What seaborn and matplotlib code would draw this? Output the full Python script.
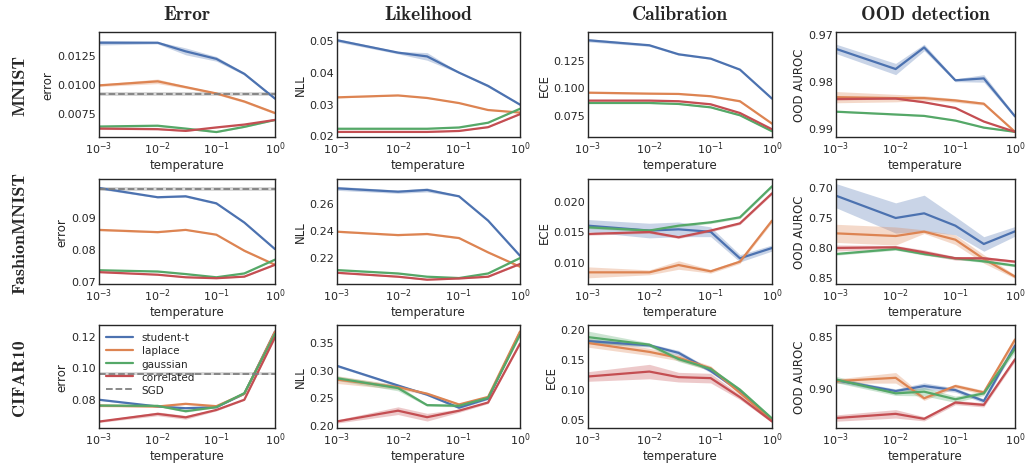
import pandas as pd
import matplotlib
matplotlib.use('Agg')
import matplotlib.pyplot as plt
from matplotlib.lines import Line2D
import seaborn as sns

temperature = [1e-3, 1e-2, 3e-2, 1e-1, 3e-1, 1.0]
methods = ['student-t', 'laplace', 'gaussian', 'correlated']
datasets = ['MNIST', 'FashionMNIST', 'CIFAR10']
metrics = ['Error', 'Likelihood', 'Calibration', 'OOD detection']
ylabels = ['error', 'NLL', 'ECE', 'OOD AUROC']

# ---- MNIST ----
mnist_error = {
    'student-t': [0.0136, 0.0136, 0.01285, 0.0122, 0.0109, 0.00875],
    'laplace': [0.0099, 0.01025, 0.00975, 0.0092, 0.0085, 0.0075],
    'gaussian': [0.00633, 0.0064, 0.00615, 0.00585, 0.0063, 0.0069],
    'correlated': [0.00615, 0.0061, 0.00595, 0.00625, 0.0065, 0.0069],
}
mnist_error_sd = {
    'student-t': [0.0002, 0.0001, 0.0003, 0.0002, 0.0001, 0.0001],
    'laplace': [0.0001, 0.0002, 0.0001, 0.0001, 0.0001, 0.0001],
    'gaussian': [0.00008, 0.00008, 0.00005, 0.00005, 0.00005, 0.00005],
    'correlated': [0.00008, 0.00005, 0.00005, 0.00005, 0.00005, 0.00005],
}
mnist_nll = {
    'student-t': [0.0500, 0.0461, 0.0449, 0.0398, 0.0356, 0.0297],
    'laplace': [0.0320, 0.0326, 0.0318, 0.0302, 0.0280, 0.0272],
    'gaussian': [0.0221, 0.0221, 0.0221, 0.0225, 0.0240, 0.0284],
    'correlated': [0.0211, 0.0211, 0.0211, 0.0214, 0.0226, 0.0267],
}
mnist_nll_sd = {
    'student-t': [0.0005, 0.0004, 0.0012, 0.0002, 0.0004, 0.0002],
    'laplace': [0.0002, 0.0001, 0.0001, 0.0001, 0.0001, 0.0001],
    'gaussian': [0.0001, 0.0001, 0.0001, 0.0001, 0.0001, 0.0001],
    'correlated': [0.0001, 0.0001, 0.0001, 0.0001, 0.0001, 0.0001],
}
mnist_ece = {
    'student-t': [0.1434, 0.1388, 0.1305, 0.1265, 0.1164, 0.0897],
    'laplace': [0.0952, 0.0943, 0.0940, 0.0919, 0.0873, 0.0667],
    'gaussian': [0.0857, 0.0857, 0.0848, 0.0817, 0.0744, 0.0597],
    'correlated': [0.0879, 0.0879, 0.0873, 0.0845, 0.0765, 0.0615],
}
mnist_ece_sd = {
    'student-t': [0.0015, 0.001, 0.0008, 0.0005, 0.0008, 0.0005],
    'laplace': [0.0008, 0.0005, 0.0005, 0.0005, 0.0008, 0.0005],
    'gaussian': [0.0005, 0.0005, 0.0005, 0.0005, 0.0005, 0.0005],
    'correlated': [0.0005, 0.0005, 0.0005, 0.0005, 0.0005, 0.0005],
}
mnist_ood = {
    'student-t': [0.9732, 0.9775, 0.9729, 0.9799, 0.9795, 0.9876],
    'laplace': [0.9835, 0.9837, 0.9837, 0.9842, 0.9849, 0.9909],
    'gaussian': [0.9866, 0.9872, 0.9875, 0.9885, 0.9900, 0.9909],
    'correlated': [0.9839, 0.9838, 0.9846, 0.9858, 0.9887, 0.9909],
}
mnist_ood_sd = {
    'student-t': [0.0010, 0.0012, 0.0007, 0.0003, 0.0008, 0.0003],
    'laplace': [0.0012, 0.0008, 0.0005, 0.0004, 0.0003, 0.0001],
    'gaussian': [0.0001, 0.0001, 0.0001, 0.0001, 0.0001, 0.0001],
    'correlated': [0.0002, 0.0001, 0.0001, 0.0001, 0.0001, 0.0001],
}
mnist_sgd = (0.00916, 0.0002)

# ---- FashionMNIST ----
fashion_error = {
    'student-t': [0.0992, 0.0963, 0.0966, 0.0944, 0.0884, 0.0801],
    'laplace': [0.0861, 0.0854, 0.0861, 0.0846, 0.0796, 0.0752],
    'gaussian': [0.0735, 0.0731, 0.0723, 0.0713, 0.0725, 0.0768],
    'correlated': [0.0729, 0.0721, 0.0713, 0.0710, 0.0715, 0.0752],
}
fashion_error_sd = {
    'student-t': [0.0004, 0.0002, 0.0003, 0.0003, 0.0002, 0.0002],
    'laplace': [0.0003, 0.0002, 0.0001, 0.0001, 0.0003, 0.0001],
    'gaussian': [0.0001, 0.0001, 0.0001, 0.0001, 0.0001, 0.0001],
    'correlated': [0.0001, 0.0001, 0.0001, 0.0001, 0.0001, 0.0001],
}
fashion_nll = {
    'student-t': [0.2711, 0.2686, 0.2699, 0.2652, 0.2472, 0.2212],
    'laplace': [0.2390, 0.2365, 0.2373, 0.2343, 0.2237, 0.2131],
    'gaussian': [0.2106, 0.2081, 0.2057, 0.2047, 0.2081, 0.2195],
    'correlated': [0.2086, 0.2057, 0.2035, 0.2044, 0.2057, 0.2151],
}
fashion_nll_sd = {
    'student-t': [0.0015, 0.0012, 0.0015, 0.0005, 0.0005, 0.0005],
    'laplace': [0.0005, 0.0005, 0.0005, 0.0005, 0.0005, 0.0005],
    'gaussian': [0.0004, 0.0004, 0.0004, 0.0004, 0.0004, 0.0004],
    'correlated': [0.0004, 0.0004, 0.0004, 0.0004, 0.0004, 0.0004],
}
fashion_ece = {
    'student-t': [0.0159, 0.0151, 0.0153, 0.0149, 0.01055, 0.01224],
    'laplace': [0.00825, 0.00825, 0.00945, 0.00842, 0.0100, 0.01672],
    'gaussian': [0.01563, 0.0151, 0.0159, 0.01645, 0.01727, 0.02235],
    'correlated': [0.01454, 0.01486, 0.0140, 0.0151, 0.01628, 0.0212],
}
fashion_ece_sd = {
    'student-t': [0.0010, 0.0012, 0.0012, 0.0008, 0.0006, 0.0005],
    'laplace': [0.0009, 0.0004, 0.0007, 0.0003, 0.0003, 0.0003],
    'gaussian': [0.0002, 0.0002, 0.0002, 0.0002, 0.0002, 0.0002],
    'correlated': [0.0002, 0.0002, 0.0002, 0.0002, 0.0002, 0.0002],
}
fashion_ood = {
    'student-t': [0.7149, 0.7518, 0.7441, 0.7645, 0.7948, 0.7739],
    'laplace': [0.7772, 0.7816, 0.7744, 0.7877, 0.8196, 0.8488],
    'gaussian': [0.8114, 0.8031, 0.8114, 0.8185, 0.8235, 0.8306],
    'correlated': [0.8014, 0.8003, 0.8086, 0.8185, 0.8185, 0.8240],
}
fashion_ood_sd = {
    'student-t': [0.020, 0.025, 0.030, 0.015, 0.012, 0.008],
    'laplace': [0.015, 0.015, 0.003, 0.008, 0.007, 0.003],
    'gaussian': [0.002, 0.002, 0.002, 0.002, 0.002, 0.002],
    'correlated': [0.005, 0.003, 0.004, 0.003, 0.003, 0.002],
}
fashion_sgd = (0.0989, 0.0006)

# ---- CIFAR10 ----
cifar_error = {
    'student-t': [0.0794, 0.0751, 0.0740, 0.0747, 0.0832, 0.1228],
    'laplace': [0.0757, 0.0751, 0.0768, 0.0753, 0.0832, 0.1228],
    'gaussian': [0.0757, 0.0755, 0.0721, 0.0747, 0.0836, 0.1213],
    'correlated': [0.0655, 0.0704, 0.0682, 0.0729, 0.0794, 0.1191],
}
cifar_error_sd = {
    'student-t': [0.0004, 0.0004, 0.0004, 0.0004, 0.0004, 0.0004],
    'laplace': [0.0008, 0.0006, 0.0005, 0.0004, 0.0004, 0.0004],
    'gaussian': [0.0006, 0.0005, 0.0006, 0.0004, 0.0004, 0.0004],
    'correlated': [0.0006, 0.0012, 0.0012, 0.0006, 0.0004, 0.0004],
}
cifar_nll = {
    'student-t': [0.3067, 0.2711, 0.2545, 0.2308, 0.2474, 0.3672],
    'laplace': [0.2818, 0.2681, 0.2563, 0.2367, 0.2504, 0.3690],
    'gaussian': [0.2842, 0.2664, 0.2355, 0.2343, 0.2486, 0.3630],
    'correlated': [0.2059, 0.2254, 0.2136, 0.2254, 0.2403, 0.3470],
}
cifar_nll_sd = {
    'student-t': [0.002, 0.002, 0.002, 0.002, 0.002, 0.002],
    'laplace': [0.007, 0.004, 0.002, 0.002, 0.002, 0.002],
    'gaussian': [0.004, 0.005, 0.002, 0.002, 0.002, 0.002],
    'correlated': [0.003, 0.007, 0.007, 0.003, 0.002, 0.002],
}
cifar_ece = {
    'student-t': [0.1798, 0.1727, 0.1602, 0.1302, 0.0964, 0.0500],
    'laplace': [0.1766, 0.1618, 0.1520, 0.1346, 0.0937, 0.0484],
    'gaussian': [0.1864, 0.1738, 0.1498, 0.1335, 0.0991, 0.0511],
    'correlated': [0.1209, 0.1291, 0.1198, 0.1182, 0.0866, 0.0462],
}
cifar_ece_sd = {
    'student-t': [0.004, 0.003, 0.004, 0.003, 0.002, 0.002],
    'laplace': [0.007, 0.006, 0.005, 0.004, 0.003, 0.002],
    'gaussian': [0.010, 0.003, 0.004, 0.003, 0.002, 0.002],
    'correlated': [0.008, 0.012, 0.008, 0.008, 0.004, 0.002],
}
cifar_ood = {
    'student-t': [0.8922, 0.9025, 0.8978, 0.9016, 0.9119, 0.8594],
    'laplace': [0.8931, 0.8900, 0.9094, 0.8978, 0.9038, 0.8538],
    'gaussian': [0.8916, 0.9047, 0.9031, 0.9103, 0.9047, 0.8625],
    'correlated': [0.9281, 0.9241, 0.9288, 0.9134, 0.9156, 0.8725],
}
cifar_ood_sd = {
    'student-t': [0.002, 0.002, 0.003, 0.002, 0.002, 0.002],
    'laplace': [0.002, 0.005, 0.002, 0.002, 0.002, 0.003],
    'gaussian': [0.003, 0.002, 0.004, 0.003, 0.002, 0.003],
    'correlated': [0.003, 0.004, 0.002, 0.002, 0.002, 0.002],
}
cifar_sgd = (0.0960, 0.0008)

panels = [
    [(mnist_error, mnist_error_sd, mnist_sgd), (mnist_nll, mnist_nll_sd, None),
     (mnist_ece, mnist_ece_sd, None), (mnist_ood, mnist_ood_sd, None)],
    [(fashion_error, fashion_error_sd, fashion_sgd), (fashion_nll, fashion_nll_sd, None),
     (fashion_ece, fashion_ece_sd, None), (fashion_ood, fashion_ood_sd, None)],
    [(cifar_error, cifar_error_sd, cifar_sgd), (cifar_nll, cifar_nll_sd, None),
     (cifar_ece, cifar_ece_sd, None), (cifar_ood, cifar_ood_sd, None)],
]

ylims = [
    [(0.00542, 0.01453), (0.0195, 0.0526), (0.0544, 0.151), (0.992, 0.9696)],
    [(0.0692, 0.102), (0.2003, 0.278), (0.00634, 0.02355), (0.861, 0.6873)],
    [(0.0614, 0.127), (0.194, 0.3808), (0.0353, 0.2065), (0.9375, 0.84)],
]
yticks = [
    [[0.0075, 0.0100, 0.0125], [0.02, 0.03, 0.04, 0.05], [0.075, 0.100, 0.125], [0.97, 0.98, 0.99]],
    [[0.07, 0.08, 0.09], [0.22, 0.24, 0.26], [0.010, 0.015, 0.020], [0.70, 0.75, 0.80, 0.85]],
    [[0.08, 0.10, 0.12], [0.20, 0.25, 0.30, 0.35], [0.05, 0.10, 0.15, 0.20], [0.85, 0.90]],
]

sns.set_style('white')
plt.rcParams.update({
    'font.size': 8,
    'axes.labelsize': 8.5,
    'xtick.labelsize': 8,
    'ytick.labelsize': 8,
    'axes.edgecolor': '.15',
    'axes.linewidth': 1.0,
})
palette = sns.color_palette('deep', 4)
colors = dict(zip(methods, palette))

W, H = 1028, 464
col_left = [99, 337, 588, 836]
col_width = [176, 183, 184, 179]
row_top = [33, 180, 326]
row_height = [105, 105, 103]

fig = plt.figure(figsize=(W / 100, H / 100), dpi=100)
axes = [[fig.add_axes([col_left[j] / W, 1 - (row_top[i] + row_height[i]) / H,
                       col_width[j] / W, row_height[i] / H])
         for j in range(4)] for i in range(3)]

for i in range(3):
    for j in range(4):
        ax = axes[i][j]
        means, sds, sgd = panels[i][j]
        rows = []
        for m in methods:
            for t, v in zip(temperature, means[m]):
                rows.append({'temperature': t, 'value': v, 'method': m})
        df = pd.DataFrame(rows)
        for m in methods:
            lo = [v - s for v, s in zip(means[m], sds[m])]
            hi = [v + s for v, s in zip(means[m], sds[m])]
            ax.fill_between(temperature, lo, hi, color=colors[m], alpha=0.3, lw=0)
        sns.lineplot(data=df, x='temperature', y='value', hue='method',
                     palette=colors, ax=ax, legend=False, linewidth=1.6,
                     errorbar=None)
        if sgd is not None:
            ax.axhspan(sgd[0] - sgd[1], sgd[0] + sgd[1], color='gray', alpha=0.3, lw=0)
            ax.axhline(sgd[0], color='gray', ls='--', lw=1.3)
        ax.set_xscale('log')
        ax.set_xlim(1e-3, 1.0)
        ax.set_xticks([1e-3, 1e-2, 1e-1, 1.0])
        ax.minorticks_off()
        ax.set_ylim(*ylims[i][j])
        ax.set_yticks(yticks[i][j])
        ax.set_xlabel('temperature', labelpad=1)
        ax.set_ylabel(ylabels[j], labelpad=2)
        ax.tick_params(length=0, pad=2)
        if i == 0:
            ax.set_title(metrics[j], fontname='cmb10', fontsize=14, pad=9)

for i, name in enumerate(datasets):
    yc = 1 - (row_top[i] + row_height[i] / 2) / H
    fig.text(0.019, yc, name, rotation=90, ha='center', va='center',
             fontname='cmb10', fontsize=13)

handles = [Line2D([], [], color=colors[m], lw=1.6) for m in methods]
handles.append(Line2D([], [], color='gray', ls='--', lw=1.3))
axes[2][0].legend(handles, methods + ['SGD'], loc='upper left', frameon=False,
                  fontsize=7.5, handlelength=2.6, labelspacing=0.3,
                  borderaxespad=0.3)

fig.savefig('out.png', dpi=100)
